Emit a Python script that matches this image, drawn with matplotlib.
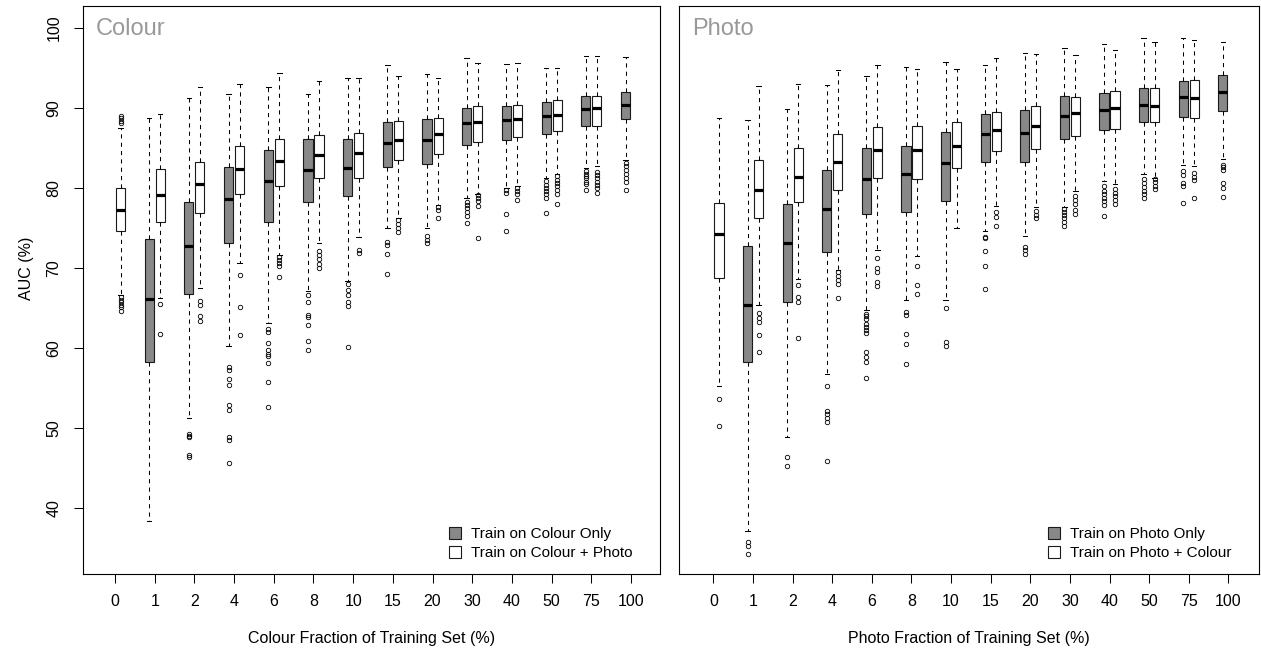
import matplotlib
matplotlib.use("Agg")
import matplotlib.pyplot as plt
from matplotlib.patches import Patch

plt.rcParams['font.family'] = ['Liberation Sans', 'DejaVu Sans']

groups = ['0', '1', '2', '4', '6', '8', '10', '15', '20', '30', '40', '50', '75', '100']

# ---------------- Colour panel ----------------
# Train on Colour Only (grey)
c_only_hi = [None, 88.7, 91.3, 91.8, 92.6, 91.8, 93.8, 95.4, 94.3, 96.2, 95.5, 95.0, 96.5, 96.4]
c_only_q3 = [None, 73.6, 78.2, 82.6, 84.8, 86.1, 86.1, 88.2, 88.6, 90.0, 90.2, 90.7, 91.5, 92.0]
c_only_med = [None, 66.1, 72.7, 78.6, 80.9, 82.3, 82.5, 85.6, 86.0, 88.1, 88.5, 89.0, 89.9, 90.4]
c_only_q1 = [None, 58.2, 66.8, 73.1, 75.8, 78.3, 79.0, 82.6, 83.0, 85.4, 86.0, 86.8, 87.8, 88.6]
c_only_lo = [None, 38.4, 51.3, 60.2, 63.1, 67.1, 68.4, 75.0, 75.0, 78.8, 80.0, 81.3, 82.5, 83.5]
c_only_out = [
    [], [],
    [49.3, 49.0, 48.9, 46.6, 46.4],
    [57.6, 57.3, 56.1, 55.4, 52.9, 52.2, 48.9, 48.5, 45.6],
    [62.4, 62.0, 60.6, 59.7, 59.3, 59.0, 58.1, 55.8, 52.6],
    [66.6, 65.7, 64.1, 63.9, 62.9, 60.9, 59.7],
    [68.0, 67.2, 66.6, 65.8, 65.3, 60.1],
    [73.3, 72.9, 71.7, 69.2],
    [74.0, 73.5, 73.1],
    [78.2, 77.9, 77.5, 77.0, 76.5, 75.6],
    [79.7, 79.4, 76.7, 74.6],
    [80.9, 80.4, 80.0, 79.6, 79.2, 78.7, 76.9],
    [82.1, 81.8, 81.5, 81.2, 80.8, 80.5, 79.8],
    [83.1, 82.8, 82.3, 81.8, 81.3, 80.7, 79.8],
]
# Train on Colour + Photo (white)
c_plus_hi = [87.5, 89.3, 92.6, 93.0, 94.4, 93.4, 93.8, 94.0, 93.7, 95.6, 95.6, 95.0, 96.5, None]
c_plus_q3 = [80.0, 82.4, 83.3, 85.3, 86.1, 86.6, 86.9, 88.4, 88.7, 90.2, 90.4, 91.0, 91.5, None]
c_plus_med = [77.3, 79.1, 80.5, 82.4, 83.4, 84.1, 84.4, 86.0, 86.7, 88.2, 88.6, 89.1, 90.0, None]
c_plus_q1 = [74.6, 75.7, 76.9, 79.2, 80.3, 81.2, 81.3, 83.5, 84.3, 85.8, 86.4, 87.1, 87.8, None]
c_plus_lo = [66.6, 66.3, 67.5, 70.6, 71.6, 73.1, 73.9, 76.3, 77.9, 79.3, 80.2, 81.8, 82.7, None]
c_plus_out = [
    [89.0, 88.7, 88.4, 88.1, 66.4, 66.0, 65.7, 65.4, 65.1, 64.6],
    [65.5, 61.8],
    [65.9, 65.4, 64.0, 63.4],
    [69.1, 65.1, 61.6],
    [71.4, 71.0, 70.6, 70.2, 68.9],
    [72.1, 71.6, 71.1, 70.5, 70.0],
    [72.2, 71.9],
    [76.0, 75.5, 75.0, 74.5],
    [77.6, 77.2, 76.2],
    [79.1, 78.8, 78.4, 77.8, 73.8],
    [80.0, 79.6, 79.3, 78.5],
    [81.5, 81.0, 80.6, 80.2, 79.7, 79.3, 78.0],
    [82.0, 81.6, 81.2, 80.8, 80.4, 80.0, 79.4],
    [],
]

# ---------------- Photo panel ----------------
# Train on Photo Only (grey)
p_only_hi = [None, 88.5, 89.9, 92.9, 94.0, 95.1, 95.7, 95.4, 96.9, 97.5, 98.0, 98.7, 98.8, 98.2]
p_only_q3 = [None, 72.7, 78.0, 82.2, 85.0, 85.2, 87.0, 89.3, 89.7, 91.5, 91.9, 92.5, 93.4, 94.1]
p_only_med = [None, 65.4, 73.1, 77.4, 81.1, 81.8, 83.1, 86.7, 86.9, 89.0, 89.7, 90.4, 91.4, 92.0]
p_only_q1 = [None, 58.3, 65.8, 72.0, 76.8, 77.0, 78.4, 83.3, 83.3, 86.1, 87.2, 88.2, 88.9, 89.6]
p_only_lo = [None, 37.1, 48.9, 56.8, 64.7, 66.0, 66.0, 74.6, 74.0, 77.6, 80.9, 81.7, 82.9, 83.6]
p_only_out = [
    [],
    [35.8, 35.2, 34.2],
    [46.4, 45.2],
    [55.2, 52.1, 51.7, 51.2, 50.8, 45.9],
    [64.3, 64.0, 63.6, 63.0, 62.6, 62.2, 61.9, 59.5, 58.9, 58.3, 56.2],
    [64.5, 64.1, 61.7, 60.5, 58.0],
    [65.0, 60.7, 60.3],
    [73.9, 73.7, 72.1, 70.3, 67.4],
    [72.6, 72.2, 71.7],
    [77.4, 77.0, 76.6, 76.2, 75.8, 75.2],
    [80.2, 79.6, 79.2, 78.8, 78.4, 77.9, 76.5],
    [81.1, 80.6, 80.1, 79.6, 79.2, 78.7],
    [82.1, 81.6, 80.6, 80.2, 78.1],
    [82.9, 82.6, 82.2, 80.6, 80.0, 78.9],
]
# Train on Photo + Colour (white)
p_plus_hi = [88.7, 92.8, 93.0, 94.8, 95.4, 94.9, 94.9, 96.3, 96.7, 96.6, 97.3, 98.2, 98.5, None]
p_plus_q3 = [78.1, 83.5, 85.0, 86.7, 87.6, 87.8, 88.3, 89.5, 90.2, 91.4, 92.1, 92.5, 93.5, None]
p_plus_med = [74.3, 79.8, 81.4, 83.2, 84.8, 84.7, 85.2, 87.3, 87.8, 89.4, 90.0, 90.3, 91.3, None]
p_plus_q1 = [68.8, 76.2, 78.3, 79.8, 81.3, 81.1, 82.5, 84.6, 84.9, 86.5, 87.4, 88.2, 88.8, None]
p_plus_lo = [55.2, 65.4, 68.6, 69.7, 72.2, 71.5, 75.0, 77.7, 77.6, 79.6, 80.5, 81.3, 82.7, None]
p_plus_out = [
    [53.6, 50.3],
    [64.4, 63.8, 63.3, 61.6, 59.5],
    [67.9, 66.4, 65.8, 61.2],
    [69.5, 69.0, 68.5, 68.0, 66.2],
    [71.3, 70.0, 69.5, 68.2, 67.8],
    [70.3, 67.9, 66.8],
    [],
    [77.0, 76.4, 75.2],
    [77.1, 76.6, 76.2],
    [79.0, 78.5, 78.0, 77.3, 76.8],
    [79.9, 79.4, 79.0, 78.5, 78.0],
    [81.1, 80.7, 80.3, 79.9],
    [81.9, 81.4, 81.0, 78.8],
    [],
]

GREY = '#888888'
EDGE = '#1a1a1a'
W = 0.23
OFF = 0.139


def make_stats(lo, q1, med, q3, hi, out):
    stats, pos = [], []
    for i in range(len(groups)):
        if med[i] is None:
            continue
        stats.append(dict(whislo=lo[i], q1=q1[i], med=med[i], q3=q3[i],
                          whishi=hi[i], fliers=out[i]))
        pos.append(i)
    return stats, pos


def draw(ax, series, face, offset):
    stats, pos = make_stats(*series)
    pos = [p + offset for p in pos]
    ax.bxp(stats, positions=pos, widths=W, patch_artist=True,
           capwidths=W * 0.5, manage_ticks=False,
           boxprops=dict(facecolor=face, edgecolor=EDGE, linewidth=0.8),
           medianprops=dict(color='black', linewidth=2.3, solid_capstyle='butt'),
           whiskerprops=dict(color='black', linewidth=0.75, linestyle=(0, (4, 4))),
           capprops=dict(color='black', linewidth=0.75),
           flierprops=dict(marker='o', markersize=3.2, markerfacecolor='none',
                           markeredgecolor='black', markeredgewidth=0.6))


fig = plt.figure(figsize=(12.61, 6.56), dpi=100)
W_PX, H_PX = 1261, 656
top, bot = 6, 574
axL = fig.add_axes([83 / W_PX, 1 - bot / H_PX, 577 / W_PX, (bot - top) / H_PX])
axR = fig.add_axes([679 / W_PX, 1 - bot / H_PX, 580 / W_PX, (bot - top) / H_PX])

draw(axL, (c_only_lo, c_only_q1, c_only_med, c_only_q3, c_only_hi, c_only_out), GREY, -OFF)
draw(axL, (c_plus_lo, c_plus_q1, c_plus_med, c_plus_q3, c_plus_hi, c_plus_out), 'white', OFF)
draw(axR, (p_only_lo, p_only_q1, p_only_med, p_only_q3, p_only_hi, p_only_out), GREY, -OFF)
draw(axR, (p_plus_lo, p_plus_q1, p_plus_med, p_plus_q3, p_plus_hi, p_plus_out), 'white', OFF)

axL.set_xlim(-0.806, 13.73)
axR.set_xlim(-0.871, 13.775)

for ax, title, xlabel, labs in [
        (axL, 'Colour', 'Colour Fraction of Training Set (%)',
         ['Train on Colour Only', 'Train on Colour + Photo']),
        (axR, 'Photo', 'Photo Fraction of Training Set (%)',
         ['Train on Photo Only', 'Train on Photo + Colour'])]:
    ax.set_ylim(31.75, 102.75)
    ax.set_xticks(range(len(groups)))
    ax.set_xticklabels(groups, fontsize=11.5)
    ax.tick_params(axis='x', direction='out', length=6.5, width=0.75, pad=8, color='black')
    for s in ax.spines.values():
        s.set_linewidth(0.8)
        s.set_color('black')
    ax.set_xlabel(xlabel, fontsize=11.5)
    ax.xaxis.set_label_coords(0.5, (bot - 638) / (bot - top))
    ax.xaxis.label.set_va('center')
    ax.text(0.022, (bot - 35) / (bot - top), title, transform=ax.transAxes,
            fontsize=17, color='#999999', ha='left', va='baseline')
    handles = [Patch(facecolor=GREY, edgecolor=EDGE, linewidth=0.8),
               Patch(facecolor='white', edgecolor=EDGE, linewidth=0.8)]
    ax.legend(handles, labs, loc='lower right', frameon=False, fontsize=11,
              bbox_to_anchor=(1 - 28 / 580, 14 / (bot - top)), borderpad=0,
              borderaxespad=0, handlelength=0.8, handleheight=0.8,
              handletextpad=0.6, labelspacing=0.3)

axL.set_yticks([40, 50, 60, 70, 80, 90, 100])
axL.set_yticklabels(['40', '50', '60', '70', '80', '90', '100'], fontsize=11.5)
axL.tick_params(axis='y', direction='out', length=6.5, width=0.75, pad=9, color='black')
for lab in axL.get_yticklabels():
    lab.set_rotation(90)
    lab.set_va('center')
axL.set_ylabel('AUC (%)', fontsize=11.5)
axL.yaxis.set_label_coords((27 - 83) / 577, (bot - 268) / (bot - top))
axL.yaxis.label.set_va('center')
axR.set_yticks([])

fig.savefig('out.png', dpi=100)
